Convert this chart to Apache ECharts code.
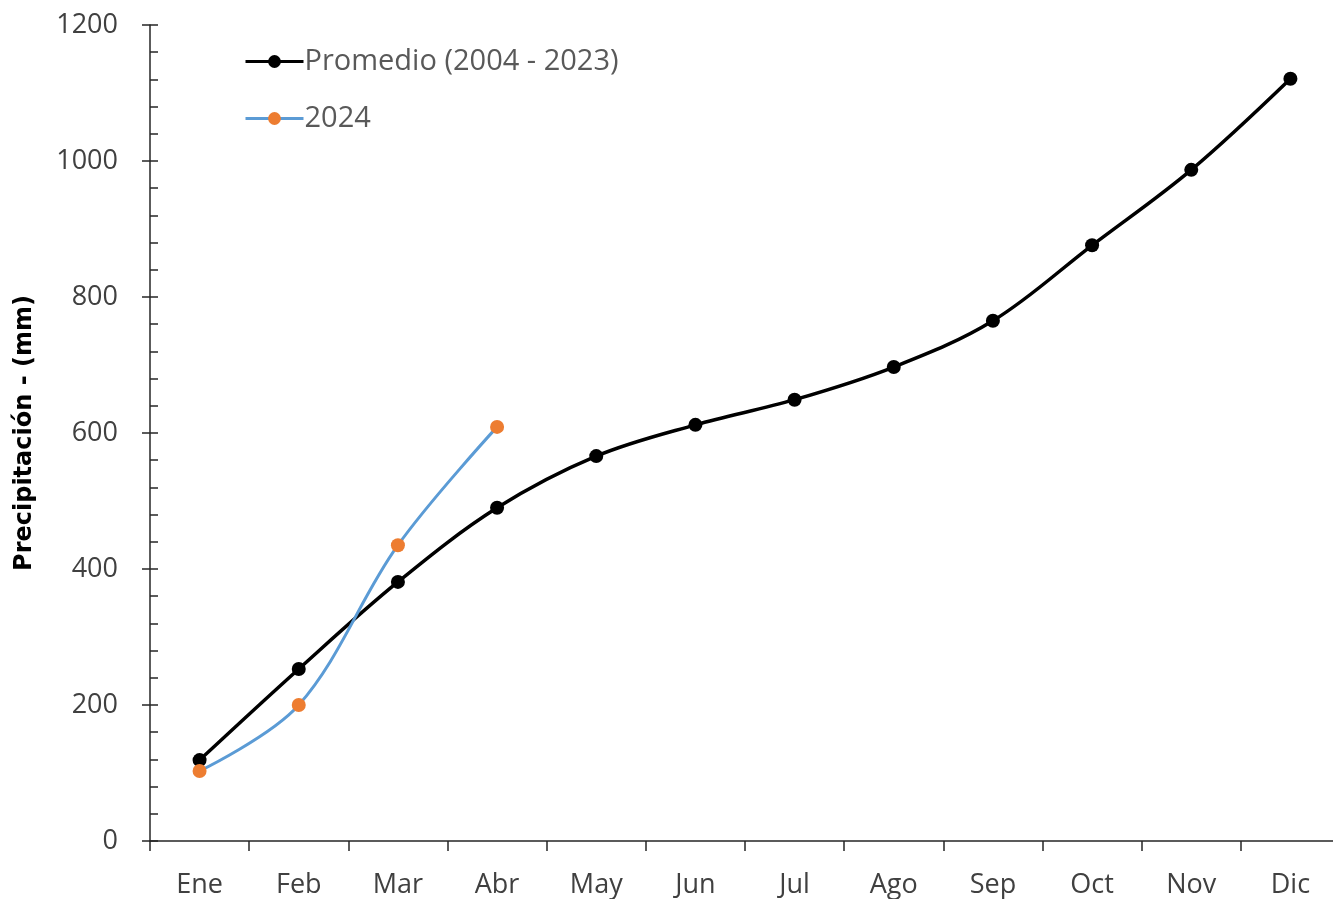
<!DOCTYPE html>
<html>
<head>
<meta charset="utf-8">
<script src="https://cdn.jsdelivr.net/npm/echarts@6/dist/echarts.min.js"></script>
<style>html,body{margin:0;padding:0;background:#fff;overflow:hidden}#c{width:1345px;height:899px}</style>
</head>
<body>
<div id="c"></div>
<script>
const months = ['Ene','Feb','Mar','Abr','May','Jun','Jul','Ago','Sep','Oct','Nov','Dic'];
const promedio = [119, 253, 381, 490, 566, 612, 649, 697, 765, 876, 987, 1121];
const y2024 = [103, 200, 435, 609];
const yTicks = [0, 200, 400, 600, 800, 1000, 1200];

const chart = echarts.init(document.getElementById('c'));
const font = 'Open Sans, sans-serif';
chart.setOption({
  animation: false,
  backgroundColor: '#fff',
  grid: { left: 150, right: 5, top: 25, bottom: 58, containLabel: false },
  legend: {
    left: 239, top: 42, orient: 'vertical', itemGap: 28,
    itemWidth: 58, itemHeight: 16,
    lineStyle: { width: 3 },
    textStyle: { fontFamily: font, fontSize: 29, color: '#595959', padding: [0,0,0,-4] },
    data: ['Promedio (2004 - 2023)', '2024']
  },
  xAxis: {
    type: 'category', data: months, boundaryGap: true,
    axisLine: { lineStyle: { color: '#262626', width: 1.5 } },
    axisTick: { show: true, inside: false, length: 10, lineStyle: { color: '#262626', width: 1.5 } },
    axisLabel: { fontFamily: font, fontSize: 27, color: '#404040', margin: 31 },
    splitLine: { show: false }
  },
  yAxis: [{
    type: 'value', min: yTicks[0], max: yTicks[yTicks.length-1], interval: 200,
    name: 'Precipitación - (mm)', nameLocation: 'middle', nameGap: 113, nameRotate: 90,
    nameTextStyle: { fontFamily: 'DejaVu Sans, sans-serif', fontSize: 24, fontWeight: 'bold', color: '#000' },
    axisLine: { show: true, lineStyle: { color: '#262626', width: 1.5 } },
    axisTick: { show: true, inside: false, length: 8, lineStyle: { color: '#262626', width: 1.5 } },
    minorTick: { show: false },
    axisLabel: { fontFamily: font, fontSize: 27, color: '#404040', margin: 32, formatter: v => String(v) },
    splitLine: { show: false }
  }, {
    type: 'value', min: yTicks[0], max: yTicks[yTicks.length-1], interval: 200, position: 'left',
    axisLine: { show: false },
    axisTick: { show: true, inside: true, length: 8, lineStyle: { color: '#262626', width: 1.5 } },
    minorTick: { show: true, splitNumber: 5, length: 8, lineStyle: { color: '#262626', width: 1.5 } },
    axisLabel: { show: false },
    splitLine: { show: false }
  }],
  series: [{
    name: 'Promedio (2004 - 2023)', type: 'line', data: promedio, smooth: 0.35,
    symbol: 'circle', symbolSize: 14,
    lineStyle: { color: '#000', width: 3.5 },
    itemStyle: { color: '#000' }
  }, {
    name: '2024', type: 'line', data: y2024, smooth: 0.35,
    symbol: 'circle', symbolSize: 14,
    lineStyle: { color: '#5B9BD5', width: 3 },
    itemStyle: { color: '#ED7D31' }
  }]
});
</script>
</body>
</html>
